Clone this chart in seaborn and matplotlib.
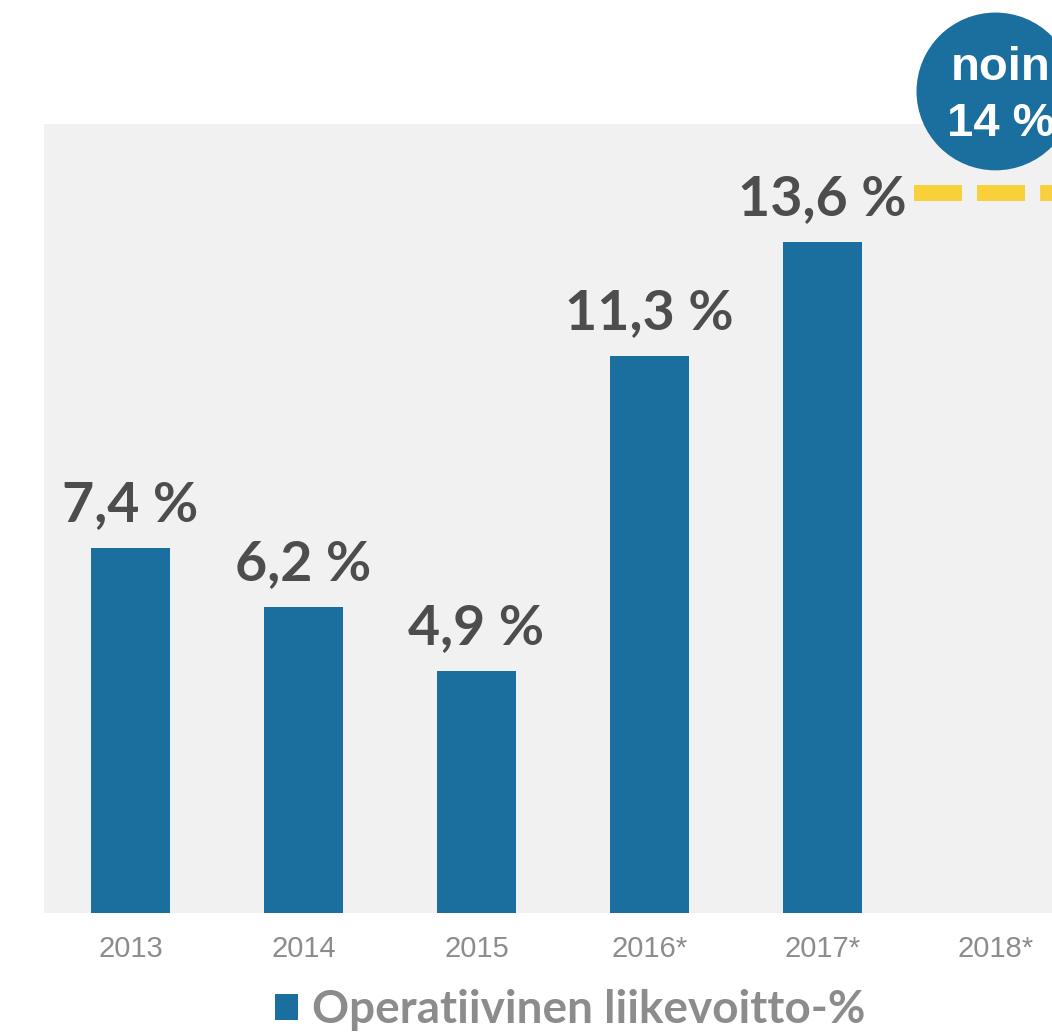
import matplotlib
matplotlib.use("Agg")
import matplotlib.pyplot as plt
from matplotlib.patches import Ellipse, Patch
import pandas as pd
import seaborn as sns

# Data
years = ["2013", "2014", "2015", "2016*", "2017*", "2018*"]
bar_years = ["2013", "2014", "2015", "2016*", "2017*"]
margins = [7.4, 6.2, 4.9, 11.3, 13.6]
target_year = "2018*"
target_text = "noin\n14 %"
legend_label = "Operatiivinen liikevoitto-%"

BLUE = "#1b6f9e"
GOLD = "#f8d13a"
DARK = "#4d4d4d"
GREY = "#8c8c8c"

sns.set_theme(style="white")
plt.rcParams["font.family"] = ["Liberation Sans", "DejaVu Sans"]

df = pd.DataFrame({"year": bar_years, "margin": margins})

fig = plt.figure(figsize=(10.52, 10.35), dpi=100)
ax = fig.add_axes([44 / 1052, 122 / 1035, 1038 / 1052, 789 / 1035])
ax.set_facecolor("#f1f1f1")

sns.barplot(data=df, x="year", y="margin", order=years, color=BLUE,
            saturation=1, width=0.46, linewidth=0, ax=ax)

ax.set_xlim(-0.5, 5.5)
ax.set_ylim(0, 16)
for s in ax.spines.values():
    s.set_visible(False)
ax.set_yticks([])
ax.set_xlabel("")
ax.set_ylabel("")
ax.tick_params(axis="x", length=0, pad=16, labelsize=21, labelcolor=GREY)

# value labels
labels = [f"{v:.1f} %".replace(".", ",") for v in margins]
ax.bar_label(ax.containers[0], labels=labels, padding=13, fontsize=40,
             fontweight="bold", color=DARK, family=["Lato", "DejaVu Sans"])

# dashed line from the 2017 label towards the 2018 estimate
ix = years.index(target_year)
ax.plot([ix - 0.47, ix + 0.5], [14.6, 14.6], color=GOLD, lw=11.5,
        linestyle=(0, (3.0, 0.95)), solid_capstyle="butt", clip_on=False, zorder=3)

# circle with the 2018 estimate
circ = Ellipse((ix, 16.66), 0.913, 3.2, facecolor=BLUE, edgecolor="none",
               clip_on=False, zorder=4)
ax.add_patch(circ)
ax.text(ix + 0.03, 16.56, target_text, ha="center", va="center", color="white",
        fontsize=34, fontweight="bold", linespacing=1.35, zorder=5, clip_on=False)

# legend
handle = Patch(facecolor=BLUE, edgecolor="none")
leg = fig.legend([handle], [legend_label], loc="center", bbox_to_anchor=(0.542, 0.024),
                 frameon=False, handlelength=0.5, handleheight=0.5, handletextpad=0.3,
                 borderpad=0, prop={"family": ["Lato", "DejaVu Sans"], "weight": "bold", "size": 33})
for t in leg.get_texts():
    t.set_color(GREY)

fig.savefig("out.png", dpi=100)
